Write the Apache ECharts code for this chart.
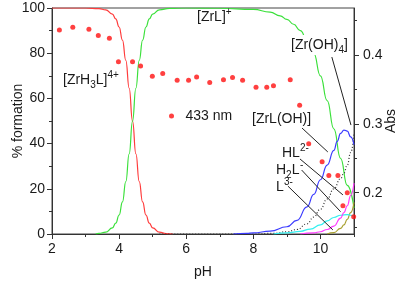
<!DOCTYPE html>
<html>
<head>
<meta charset="utf-8">
<script src="https://cdn.jsdelivr.net/npm/echarts@6/dist/echarts.min.js"></script>
<style>
  html, body { margin: 0; padding: 0; background: #fff; }
  #chart { width: 400px; height: 282px; }
</style>
</head>
<body>
<div id="chart"></div>
<script>
// species distribution, [pH, % formation]
const zrH3L = [[2,100],[3,100],[3.4,99.7],[3.6,99.2],[3.8,97.3],[3.9,95.2],[4.0,91.6],[4.1,85.8],[4.2,76.8],[4.3,64.5],[4.4,50],[4.5,35.5],[4.6,23.2],[4.7,14.2],[4.8,8.4],[4.9,4.8],[5.0,2.7],[5.2,0.8],[5.4,0.2],[5.6,0]]
const zrL = [[3.3,0],[3.4,0.3],[3.6,0.8],[3.8,2.7],[3.9,4.8],[4.0,8.4],[4.1,14.2],[4.2,23.2],[4.3,35.5],[4.4,50],[4.5,64.5],[4.6,76.8],[4.7,85.8],[4.8,91.6],[4.9,95.2],[5.0,97.3],[5.2,99.2],[5.5,99.8],[6,100],[7,99.9],[8,99.4],[8.5,98.2],[8.8,96.5],[9.0,95],[9.2,92.8],[9.4,90],[9.6,86],[9.8,80],[10.0,70],[10.2,59],[10.4,46.5],[10.6,33.5],[10.8,21.5],[11.0,11.5]]
const zrLOH = [[7.4,0],[7.8,0.3],[8.0,0.5],[8.5,1.3],[9.0,3.2],[9.3,6],[9.6,12],[9.8,17.5],[10.0,24],[10.2,30.5],[10.4,37],[10.5,41],[10.6,44.5],[10.7,46],[10.8,45.5],[10.9,43],[11.0,39.5]]
const zrOH4 = [[5.2,0],[8.0,0],[8.6,0.3],[9.0,1],[9.3,2],[9.6,4.5],[9.8,7.5],[10.0,11],[10.2,15.5],[10.4,20],[10.6,24.5],[10.7,27],[10.8,30.5],[10.9,36],[11.0,44]]
const h2L = [[9.4,0],[9.8,0.5],[10.0,1],[10.2,2],[10.4,3.5],[10.6,7],[10.7,9.5],[10.8,12.5],[10.9,17],[11.0,22.5]]
const hL = [[8.6,0],[9.0,0.5],[9.4,1.2],[9.7,2.2],[10.0,4],[10.2,5.8],[10.4,7.3],[10.6,8.3],[10.8,8.6],[10.9,8.3],[11.0,7.8]]
const L = [[10.2,0],[10.4,0.6],[10.6,2.5],[10.7,4],[10.8,6.5],[10.9,9.5],[11.0,14]]
// absorbance at 433 nm, [pH, Abs]
const abs433 = [[2.22,0.436],[2.62,0.440],[3.10,0.437],[3.38,0.428],[3.71,0.424],[3.98,0.390],[4.40,0.390],[4.64,0.384],[4.99,0.369],[5.30,0.373],[5.73,0.363],[6.07,0.363],[6.31,0.368],[6.70,0.360],[7.11,0.364],[7.38,0.367],[7.68,0.363],[8.08,0.353],[8.40,0.353],[8.60,0.355],[9.10,0.364],[9.38,0.327],[9.65,0.271],[10.05,0.245],[10.25,0.225],[10.52,0.225],[10.67,0.181],[10.80,0.200],[10.99,0.165]]
// label arrows, in [pH, %] space
const arrows = [
  [[10.34,78.3],[10.91,48.2]],
  [[9.45,46.9],[10.22,36.3]],
  [[9.39,33.2],[10.67,17.3]],
  [[9.44,28.3],[10.60,9.9]],
  [[9.03,21.2],[10.37,1.8]]
]
const absLabels = [0.2, 0.3, 0.4]
const absMinor = [0.15, 0.25, 0.35, 0.45]

const FONT = '"Liberation Sans", Arial, sans-serif'
const ink = '#1a1a1a'
const rich = {
  n: { fontSize: 14, lineHeight: 20, fontFamily: FONT, fill: ink },
  sub: { fontSize: 10, lineHeight: 10, verticalAlign: 'bottom', fontFamily: FONT, fill: ink },
  sup: { fontSize: 10, lineHeight: 10, verticalAlign: 'top', fontFamily: FONT, fill: ink }
}
function label(text, x, y, bg) {
  return { type: 'text', x, y, z: 50,
    style: { text, rich, verticalAlign: 'middle', align: 'left', fill: ink,
      backgroundColor: bg || 'transparent', padding: bg ? [0, 1] : 0 } }
}
// small charge text placed after a label
function charge(text, x, y) {
  return { type: 'text', x, y, z: 51,
    style: { text, fontSize: 10, fontFamily: FONT, fill: ink, verticalAlign: 'middle', align: 'left' } }
}
const line = (name, data, color, extra) => Object.assign({
  name, type: 'line', data, smooth: true, smoothMonotone: 'x', symbol: 'none',
  lineStyle: { color, width: 1.2 }, itemStyle: { color }, z: 3
}, extra || {})

const chart = echarts.init(document.getElementById('chart'))
chart.setOption({
  animation: false,
  textStyle: { fontFamily: FONT },
  grid: { left: 52, right: 46, top: 8, bottom: 48, outerBoundsMode: 'none', containLabel: false,
    show: true, borderColor: '#444', borderWidth: 1 },
  legend: { data: [{ name: '433 nm', icon: 'circle' }], left: 164, top: 104, itemWidth: 18, itemHeight: 5,
    textStyle: { fontSize: 14, color: ink, fontFamily: FONT } },
  xAxis: [
    { type: 'value', min: 2, max: 11, interval: 2, position: 'bottom',
      name: 'pH', nameLocation: 'middle', nameGap: 31, nameMoveOverlap: false,
      nameTextStyle: { fontSize: 14, color: ink },
      axisLine: { lineStyle: { color: '#333' } }, axisTick: { length: 5, lineStyle: { color: '#333' } },
      axisLabel: { fontSize: 14, color: ink, margin: 8, showMaxLabel: false }, splitLine: { show: false } },
    { type: 'value', min: 2, max: 11, interval: 1, position: 'bottom',
      axisLine: { show: false }, axisTick: { length: 3, lineStyle: { color: '#333' } },
      axisLabel: { show: false }, splitLine: { show: false } }
  ],
  yAxis: [
    { type: 'value', min: 0, max: 100, interval: 20, position: 'left',
      name: '% formation', nameLocation: 'middle', nameGap: 27, nameMoveOverlap: false,
      nameTextStyle: { fontSize: 14, color: ink },
      axisLine: { show: true, lineStyle: { color: '#333' } }, axisTick: { length: 5, lineStyle: { color: '#333' } },
      minorTick: { show: true, splitNumber: 2, length: 3, lineStyle: { color: '#333' } },
      axisLabel: { fontSize: 14, color: ink, margin: 7 }, splitLine: { show: false } },
    { type: 'value', min: 0.14, max: 0.468, position: 'right',
      name: 'Abs', nameLocation: 'middle', nameGap: 30, nameMoveOverlap: false,
      nameTextStyle: { fontSize: 14, color: ink },
      axisLine: { show: true, lineStyle: { color: '#333' } },
      axisTick: { customValues: absLabels, length: 5, lineStyle: { color: '#333' } },
      axisLabel: { customValues: absLabels, fontSize: 14, color: ink, margin: 9, formatter: v => v.toFixed(1) },
      splitLine: { show: false } },
    { type: 'value', min: 0.14, max: 0.468, position: 'right',
      axisLine: { show: false }, axisTick: { customValues: absMinor, length: 3, lineStyle: { color: '#333' } },
      axisLabel: { show: false }, splitLine: { show: false } }
  ],
  series: [
    line('[ZrH3L]', zrH3L, '#ff3b3b'),
    line('[ZrL]', zrL, '#3be03b'),
    line('[Zr(OH)4]', zrOH4, '#333', { lineStyle: { color: '#333', width: 1.2, type: [1, 2] } }),
    line('L3-', L, '#a8a030'),
    line('HL2-', hL, '#33f0f0'),
    line('H2L-', h2L, '#ff3bff'),
    line('[ZrL(OH)]', zrLOH, '#3b3bff', {
      markLine: { silent: true, symbol: ['none', 'arrow'], symbolSize: [0, 8],
        lineStyle: { color: '#222', width: 1, type: 'solid' }, label: { show: false },
        emphasis: { disabled: true },
        data: arrows.map(a => [{ coord: a[0] }, { coord: a[1] }]) }
    }),
    { name: '433 nm', type: 'scatter', yAxisIndex: 1, data: abs433, symbol: 'circle', symbolSize: 5,
      itemStyle: { color: '#ff1010' }, z: 5 }
  ],
  graphic: [
    label('{n|[ZrH}{sub|3}{n|L]}{sup|4+}', 63, 80),
    label('{n|[ZrL]}{sup|+}', 197, 17),
    label('{n|[Zr(OH)}{sub|4}{n|]}', 290, 45, '#fff'),
    label('{n|[ZrL(OH)]}', 252, 119),
    label('{n|HL}', 282, 153),
    charge('2-', 300, 148),
    label('{n|H}{sub|2}{n|L}', 276, 170),
    charge('-', 300, 165),
    label('{n|L}', 276, 187),
    charge('3-', 284, 182)
  ]
})
window.addEventListener('resize', () => chart.resize())
</script>
</body>
</html>
